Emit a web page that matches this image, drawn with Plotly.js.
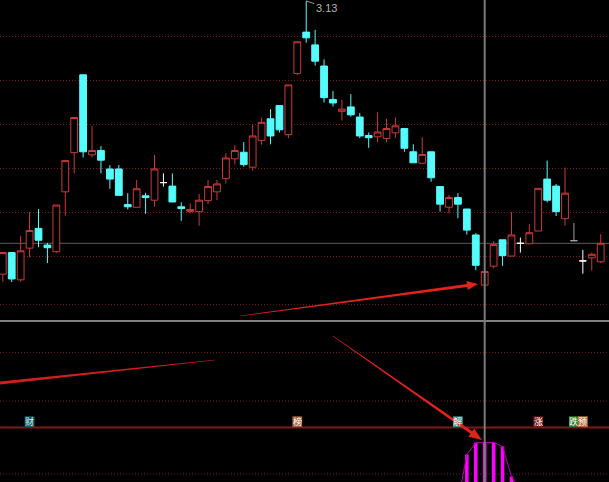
<!DOCTYPE html>
<html><head><meta charset="utf-8">
<script src="https://cdn.plot.ly/plotly-3.0.1.min.js"></script>
<style>html,body{margin:0;padding:0;background:#000;} #chart{width:609px;height:482px;}</style>
</head><body><div id="chart"></div>
<script>
// ---- data ----
const openP  = [2.509,2.558,2.496,2.568,2.613,2.575,2.560,2.696,2.785,2.962,2.780,2.790,2.748,2.748,2.667,2.661,2.687,2.677,2.717,2.709,2.662,2.651,2.651,2.676,2.696,2.726,2.771,2.786,2.752,2.813,2.862,2.892,2.826,2.965,3.059,3.030,2.982,2.906,2.879,2.889,2.866,2.824,2.821,2.817,2.830,2.840,2.787,2.761,2.787,2.708,2.661,2.683,2.657,2.598,2.484,2.527,2.587,2.550,2.579,2.578,2.607,2.725,2.709,2.635,2.585,2.539,2.546,2.537];
const highP  = [2.558,2.558,2.596,2.650,2.657,2.580,2.666,2.767,2.865,2.962,2.846,2.800,2.757,2.757,2.693,2.723,2.694,2.780,2.738,2.738,2.672,2.670,2.691,2.723,2.723,2.784,2.802,2.809,2.848,2.865,2.884,2.892,2.939,3.037,3.130,3.064,2.997,2.925,2.905,2.918,2.875,2.831,2.877,2.862,2.865,2.840,2.804,2.820,2.787,2.708,2.689,2.693,2.657,2.602,2.515,2.584,2.587,2.650,2.592,2.623,2.704,2.767,2.714,2.751,2.625,2.564,2.558,2.600];
const lowP   = [2.492,2.491,2.492,2.547,2.570,2.534,2.557,2.642,2.738,2.774,2.774,2.738,2.703,2.688,2.656,2.661,2.646,2.662,2.708,2.673,2.630,2.647,2.619,2.668,2.677,2.715,2.758,2.753,2.744,2.803,2.804,2.831,2.818,2.962,3.035,2.983,2.899,2.890,2.858,2.867,2.818,2.796,2.809,2.809,2.819,2.787,2.762,2.761,2.719,2.651,2.647,2.636,2.599,2.518,2.484,2.522,2.528,2.550,2.558,2.578,2.607,2.672,2.641,2.619,2.585,2.510,2.517,2.534];
const closeP = [2.558,2.498,2.562,2.608,2.586,2.569,2.666,2.767,2.865,2.787,2.790,2.768,2.725,2.688,2.662,2.703,2.683,2.748,2.717,2.673,2.658,2.656,2.677,2.708,2.714,2.773,2.790,2.758,2.823,2.854,2.823,2.837,2.939,3.037,3.046,2.993,2.910,2.898,2.884,2.871,2.823,2.819,2.832,2.840,2.846,2.795,2.762,2.781,2.728,2.668,2.683,2.668,2.609,2.529,2.515,2.576,2.551,2.598,2.579,2.603,2.704,2.677,2.651,2.693,2.585,2.539,2.554,2.579];
const prevClose = 2.579;
const gridPrices = [2.55, 2.65, 2.75, 2.85, 2.95, 3.05];
const peakIndex = 34;
const peakLabel = '3.13';
const cursorIndex = 54;
const histIdx  = [51, 52, 53, 54, 55, 56, 57, 58];
const histVals = [-40, 53, 75.6, 76.3, 75.9, 68.3, 10.6, -20];
const tagIdx  = [3, 33, 51, 60, 64, 65];
const tagText = ['财', '榜', '解', '涨', '跌', '预'];

// ---- styling ----
const W = 609, H = 482;
const px = x => x / W, py = y => 1 - y / H;
const RED = '#cc3a3a', CYAN = '#54fcfc';
const GRID = '#7a1e1e';
const tagBg = ['#1e5a6a', '#a0643c', '#3c8c8c', '#781414', '#2d7d2d', '#b4703c'];
const tagFg = ['#c8f4f4', '#ffffff', '#ffffff', '#ffffff', '#ffffff', '#ffffff'];

const all = openP.map((_, i) => i);
const upIdx = all.filter(i => closeP[i] > openP[i]);
const dnIdx = all.filter(i => closeP[i] < openP[i]);
const dojiW = all.filter(i => closeP[i] === openP[i] && lowP[i] < openP[i]);
const dojiG = all.filter(i => closeP[i] === openP[i] && lowP[i] === openP[i]);

function candle(idxs, color, fill) {
  return {
    type: 'candlestick', x: idxs,
    open: idxs.map(i => openP[i]), high: idxs.map(i => highP[i]),
    low: idxs.map(i => lowP[i]), close: idxs.map(i => closeP[i]),
    increasing: {line: {color: color, width: 1}, fillcolor: fill},
    decreasing: {line: {color: color, width: 1}, fillcolor: fill},
    whiskerwidth: 0, hoverinfo: 'skip', showlegend: false, xaxis: 'x', yaxis: 'y'
  };
}

const traces = [
  candle(upIdx, RED, '#000000'),
  candle(dnIdx, CYAN, CYAN),
  candle(dojiW, '#ffffff', '#ffffff'),
  candle(dojiG, '#a0a0a0', '#a0a0a0'),
  {type: 'bar', x: histIdx, y: histVals, width: 0.4, marker: {color: '#ff00ff', line: {width: 0}},
   xaxis: 'x', yaxis: 'y2', hoverinfo: 'skip', showlegend: false},
  {type: 'scatter', mode: 'lines', x: histIdx, y: histVals, line: {color: '#b400b4', width: 1},
   xaxis: 'x', yaxis: 'y2', hoverinfo: 'skip', showlegend: false}
];

function taper(x0, y0, x1, y1, w0, w1, hl, hw) {
  const dx = x1 - x0, dy = y1 - y0, L = Math.hypot(dx, dy);
  const ux = dx / L, uy = dy / L, nx = -uy, ny = ux;
  let pts;
  if (hl > 0) {
    const bx = x1 - ux * hl, by = y1 - uy * hl;
    pts = [[x0 + nx * w0 / 2, y0 + ny * w0 / 2], [bx + nx * w1 / 2, by + ny * w1 / 2], [bx + nx * hw, by + ny * hw],
           [x1, y1], [bx - nx * hw, by - ny * hw], [bx - nx * w1 / 2, by - ny * w1 / 2], [x0 - nx * w0 / 2, y0 - ny * w0 / 2]];
  } else {
    pts = [[x0 + nx * w0 / 2, y0 + ny * w0 / 2], [x1 + nx * w1 / 2, y1 + ny * w1 / 2],
           [x1 - nx * w1 / 2, y1 - ny * w1 / 2], [x0 - nx * w0 / 2, y0 - ny * w0 / 2]];
  }
  return 'M' + pts.map(p => px(p[0]).toFixed(5) + ',' + py(p[1]).toFixed(5)).join(' L') + ' Z';
}

const shapes = [
  {type: 'line', layer: 'below', xref: 'paper', x0: 0, x1: 1, yref: 'y', y0: prevClose, y1: prevClose,
   line: {color: '#5c5c5c', width: 1}},
  {type: 'line', xref: 'paper', x0: 0, x1: 1, yref: 'paper', y0: py(321), y1: py(321),
   line: {color: '#808080', width: 2}}
];
[304.7, 352.7, 401, 474].forEach(y => shapes.push({type: 'line', layer: 'below', xref: 'paper', x0: 0, x1: 1,
  yref: 'paper', y0: py(y), y1: py(y), line: {color: GRID, width: 1, dash: '1px,2px'}}));
shapes.push({type: 'line', xref: 'paper', x0: 0, x1: 1, yref: 'paper', y0: py(427.5), y1: py(427.5),
  line: {color: '#801818', width: 2}});
tagIdx.forEach((xi, k) => shapes.push({type: 'rect', xref: 'x', x0: xi - 0.55, x1: xi + 0.55,
  yref: 'paper', y0: py(427), y1: py(416.3), fillcolor: tagBg[k], line: {width: 0}}));
shapes.push({type: 'line', xref: 'x', x0: cursorIndex, x1: cursorIndex, yref: 'paper', y0: 0, y1: 1,
  line: {color: '#7a7a7a', width: 2}});
const ARROW = '#e2231c';
shapes.push({type: 'path', xref: 'paper', yref: 'paper', path: taper(240, 316, 478, 284, 0.4, 3, 11, 4.5),
  fillcolor: ARROW, line: {width: 0}});
shapes.push({type: 'path', xref: 'paper', yref: 'paper', path: taper(333, 336, 482, 440, 0.4, 3, 13, 5),
  fillcolor: ARROW, line: {width: 0}});
shapes.push({type: 'path', xref: 'paper', yref: 'paper', path: taper(215, 360, 0, 383, 0.4, 3, 0, 0),
  fillcolor: '#d21e1e', line: {width: 0}});

const annotations = [
  {xref: 'x', yref: 'y', x: peakIndex, y: highP[peakIndex], text: peakLabel, showarrow: true,
   arrowhead: 0, arrowwidth: 1, arrowcolor: '#9a9a9a', ax: 20, ay: 7, standoff: 0,
   font: {family: 'Liberation Sans, Arial, sans-serif', size: 11, color: '#b4b4b4'}}
];
tagIdx.forEach((xi, k) => annotations.push({xref: 'x', yref: 'paper', x: xi, y: py(421.7),
  text: tagText[k], showarrow: false, xanchor: 'center', yanchor: 'middle', borderpad: 0,
  font: {family: 'Noto Sans CJK SC, sans-serif', size: 9, color: tagFg[k]}}));

const layout = {
  width: W, height: H, margin: {l: 0, r: 0, t: 0, b: 0, pad: 0},
  paper_bgcolor: '#000000', plot_bgcolor: '#000000',
  showlegend: false, hovermode: false, boxgap: 0.2, boxgroupgap: 0.05,
  xaxis: {range: [-0.314, 67.93], visible: false, fixedrange: true, rangeslider: {visible: false}},
  yaxis: {domain: [py(321), 1], range: [3.132 - 321 / 440, 3.132], tickvals: gridPrices,
          showticklabels: false, ticks: '', showgrid: true, gridcolor: GRID, griddash: '1px,2px',
          gridwidth: 1, zeroline: false, showline: false, fixedrange: true},
  yaxis2: {domain: [0, py(430)], range: [0, 100], visible: false, anchor: 'x', fixedrange: true},
  shapes: shapes, annotations: annotations
};

Plotly.newPlot('chart', traces, layout, {staticPlot: true, displayModeBar: false});
</script>
</body></html>
